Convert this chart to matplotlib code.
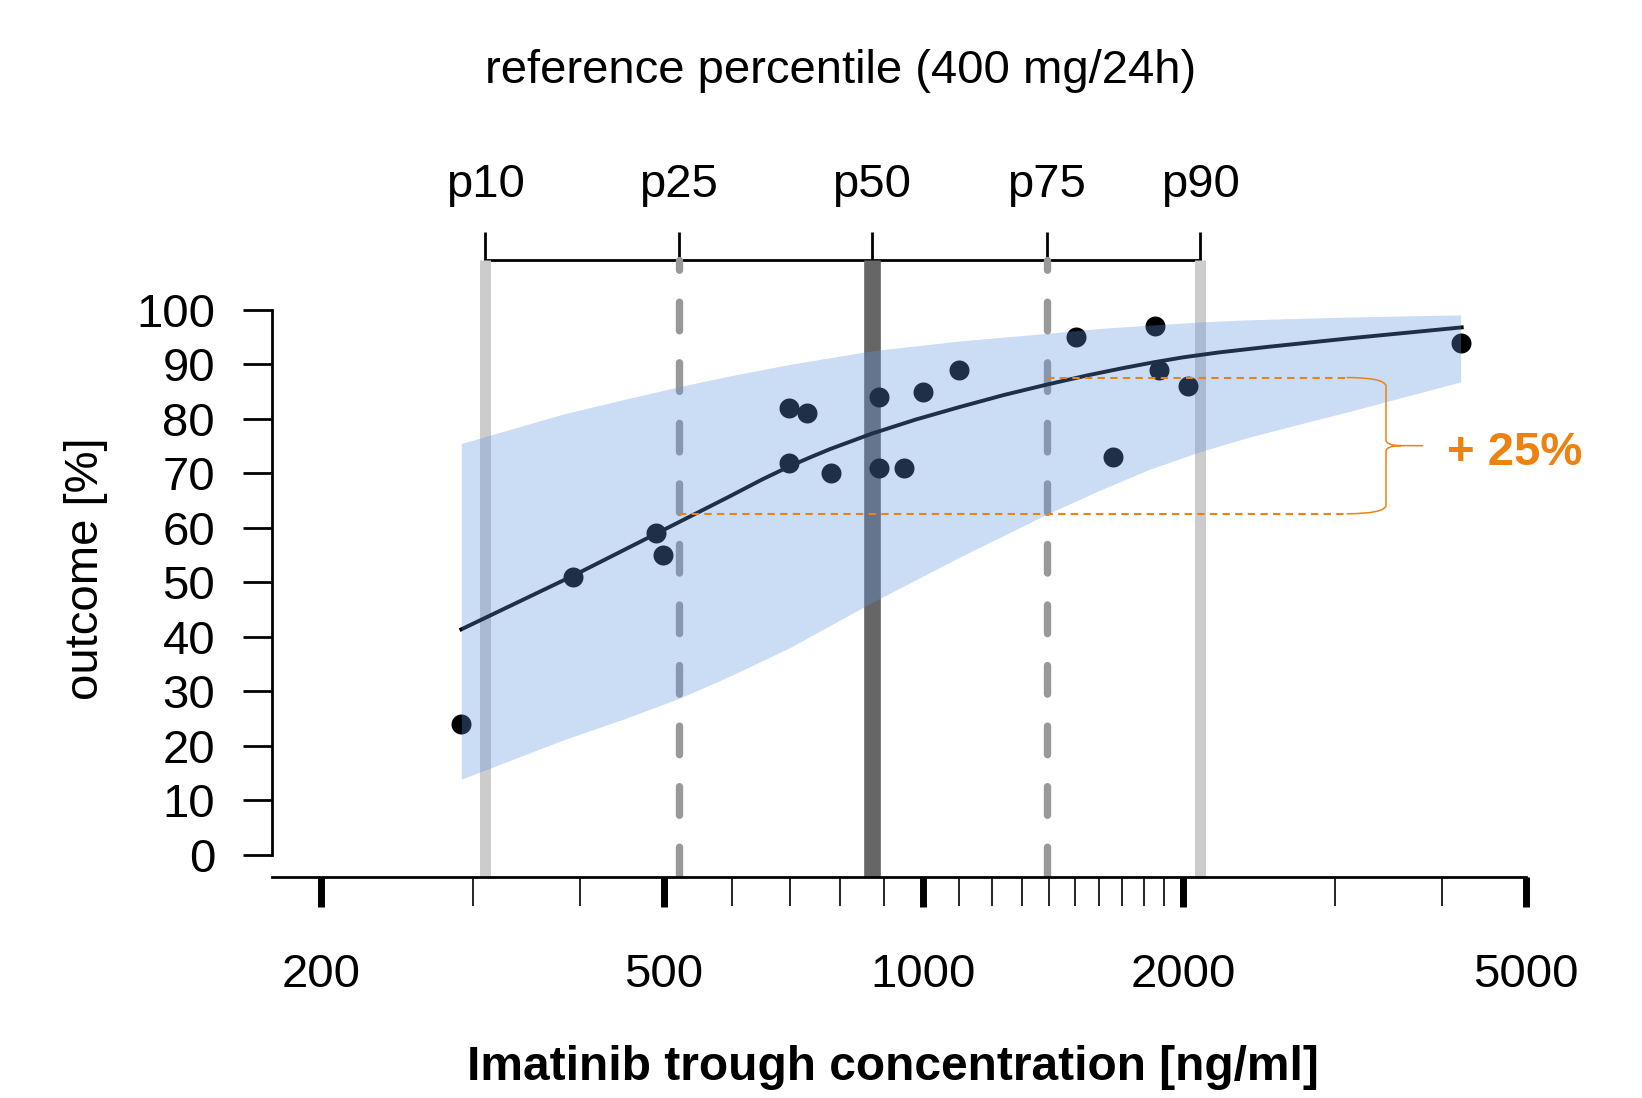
"""Imatinib trough concentration vs outcome, with reference percentiles (400 mg/24h)."""
import matplotlib
matplotlib.use("Agg")
import matplotlib.pyplot as plt
from matplotlib.path import Path
from matplotlib.patches import PathPatch
from matplotlib.ticker import NullFormatter, NullLocator

plt.rcParams["font.family"] = ["Liberation Sans", "DejaVu Sans"]
plt.rcParams["lines.scale_dashes"] = False

# ---------- data ----------
conc = [291, 392, 489, 499, 699, 733, 699, 781, 889, 889, 950, 998, 1099, 1502, 1858, 1878, 2025, 1661, 4199]
outcome = [24, 51, 59, 55, 82, 81, 72, 70, 84, 71, 71, 85, 89, 95, 97, 89, 86, 73, 94]

fit_x = [291, 393, 489, 596, 650, 699, 740, 780, 871, 980, 1102, 1240, 1390, 1550, 1700, 1850,
         2000, 2200, 2500, 3124, 4211]
fit_y = [41.4, 51.3, 58.9, 65.8, 68.9, 71.3, 73.0, 74.5, 77.3, 79.9, 82.2, 84.4, 86.3, 88.0, 89.3, 90.4,
         91.3, 92.2, 93.2, 94.8, 96.8]

band_x = [291, 382, 450, 520, 596, 699, 871, 1100, 1390, 1600, 1825, 2094, 2392, 2800,
          3124, 3600, 4199]
band_hi = [75.5, 80.9, 83.6, 85.9, 87.9, 90.0, 92.5, 94.3, 95.7, 96.6, 97.2, 97.8, 98.2, 98.5,
           98.7, 98.9, 99.1]
band_lo = [13.9, 21.1, 25.0, 28.7, 32.8, 38.0, 46.3, 54.6, 62.5, 66.9, 70.7, 74.0, 76.7, 79.5,
           81.4, 84.0, 86.8]

pct_labels = ["p10", "p25", "p50", "p75", "p90"]
pct_conc = [310, 520, 871, 1390, 2094]

x_major = [200, 500, 1000, 2000, 5000]
x_minor = [300, 400, 600, 700, 800, 900, 1100, 1200, 1300, 1400, 1500, 1600,
           1700, 1800, 1900, 3000, 4000]
y_ticks = list(range(0, 101, 10))

gain_lo, gain_hi = 62.6, 87.6
gain_text = "+ 25%"

# ---------- styles ----------
ORANGE = "#EE8210"
BAND = (96 / 255, 149 / 255, 224 / 255)
PCT_COL = ["#cccccc", "#999999", "#666666", "#999999", "#cccccc"]
PCT_LW = [7.9, 5.3, 12.0, 5.3, 7.9]
PCT_DASHED = [False, True, False, True, False]
FS = 34

W, H = 1642, 1098
Y0, Y1 = -4.04, 114.3
Y_BRACKET = 109.2

fig = plt.figure(figsize=(W / 100, H / 100), dpi=100)
ax = fig.add_axes([272 / W, 1 - 877 / H, 1254 / W, 645 / H])
ax.set_xscale("log")
ax.set_xlim(175.5, 5000)
ax.set_ylim(Y0, Y1)

# percentile reference lines
for x, c, lw, dashed in zip(pct_conc, PCT_COL, PCT_LW, PCT_DASHED):
    if dashed:
        ax.plot([x, x], [Y0, Y_BRACKET], color=c, lw=lw, linestyle=(42.4, (20.6, 23.0)),
                dash_capstyle="round", zorder=1)
    else:
        ax.plot([x, x], [Y0, Y_BRACKET], color=c, lw=lw, solid_capstyle="butt", zorder=1)

# observations + fit, then translucent band over them
ax.plot(conc, outcome, "o", color="black", ms=14.4, mew=0, zorder=3)
ax.plot(fit_x, fit_y, color="black", lw=2.8, zorder=3)
ax.fill_between(band_x, band_lo, band_hi, color=BAND, alpha=0.32, lw=0, zorder=4)

# +25% annotation: dashed guides and brace
bx0, bxv, bxt = 3097, 3440, 3800
ax.plot([pct_conc[1], bx0], [gain_lo, gain_lo], color=ORANGE, lw=1.5, dashes=(5.3, 3.8), zorder=5)
ax.plot([pct_conc[3], bx0], [gain_hi, gain_hi], color=ORANGE, lw=1.5, dashes=(5.3, 3.8), zorder=5)
mid = (gain_lo + gain_hi) / 2
verts = [(bx0, gain_hi), (3420, gain_hi), (bxv, gain_hi - 1.5),
         (bxv, mid + 1.1), (bxv, mid), (3580, mid), (bxt, mid),
         (3580, mid), (bxv, mid), (bxv, mid - 1.1),
         (bxv, gain_lo + 1.5), (3420, gain_lo), (bx0, gain_lo)]
codes = [Path.MOVETO, Path.CURVE3, Path.CURVE3,
         Path.LINETO, Path.CURVE3, Path.CURVE3, Path.LINETO,
         Path.MOVETO, Path.CURVE3, Path.CURVE3,
         Path.LINETO, Path.CURVE3, Path.CURVE3]
ax.add_patch(PathPatch(Path(verts, codes), fc="none", ec=ORANGE, lw=1.1, zorder=5))
ax.text(4048, 73.7, gain_text, color=ORANGE, fontsize=FS, fontweight="bold",
        ha="left", va="center")

# axes styling (R-like detached axes)
for s in ("top", "right"):
    ax.spines[s].set_visible(False)
ax.spines["left"].set_bounds(0, 100)
ax.spines["left"].set_linewidth(2)
ax.spines["bottom"].set_linewidth(2)
ax.spines["bottom"].set_zorder(6)

ax.set_yticks(y_ticks)
ax.tick_params(axis="y", length=21, width=2, pad=20, labelsize=FS)
ax.set_xticks(x_major, labels=[str(v) for v in x_major])
ax.set_xticks(x_minor, minor=True)
ax.xaxis.set_minor_formatter(NullFormatter())
ax.tick_params(axis="x", which="major", length=21.5, width=5, pad=33, labelsize=FS)
ax.tick_params(axis="x", which="minor", length=21, width=1.2)

# percentile bracket on top
sec = ax.secondary_xaxis((877 - 260) / 645)
sec.set_xticks(pct_conc, labels=pct_labels)
sec.xaxis.set_minor_locator(NullLocator())
sec.tick_params(axis="x", length=20, width=2, pad=18, labelsize=FS)
sec.spines["top"].set_bounds(pct_conc[0], pct_conc[-1])
sec.spines["top"].set_linewidth(2)

fig.text(841 / W, 1 - 71 / H, "reference percentile (400 mg/24h)", ha="center", va="center", fontsize=FS)
fig.text(86 / W, 1 - 569 / H, "outcome [%]", rotation=90, ha="center", va="center", fontsize=FS)
fig.text(893 / W, 1 - 1068 / H, "Imatinib trough concentration [ng/ml]", ha="center", va="center",
         fontsize=34.5, fontweight="bold")

fig.savefig("out.png", dpi=100)
